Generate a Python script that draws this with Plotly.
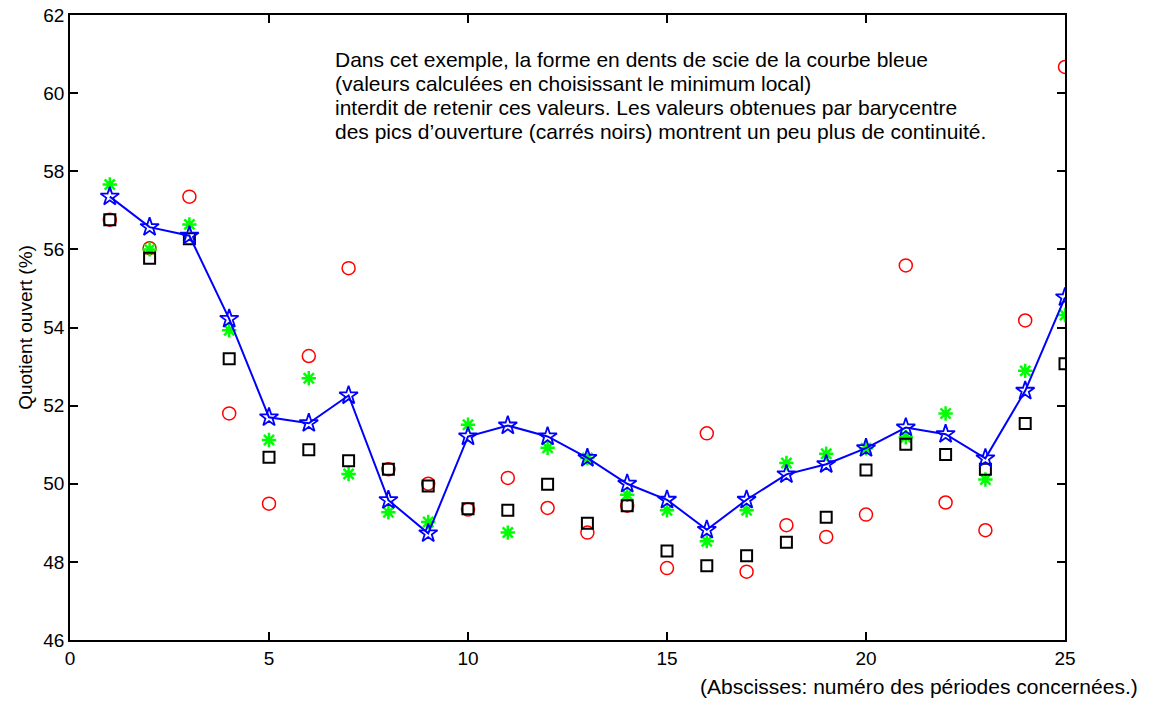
import plotly.graph_objects as go

periodes = list(range(1, 26))

# minimum local (courbe bleue)
q_min_local = [57.35, 56.57, 56.35, 54.22, 51.70, 51.55, 52.26, 49.58, 48.73, 51.21,
               51.49, 51.21, 50.66, 50.00, 49.59, 48.82, 49.59, 50.24, 50.50, 50.91,
               51.44, 51.27, 50.65, 52.38, 54.77]
# asterisques verts
q_vert = [57.66, 56.00, 56.64, 53.93, 51.12, 52.70, 50.25, 49.27, 49.02, 51.51,
          48.75, 50.92, 50.66, 49.72, 49.32, 48.53, 49.32, 50.53, 50.77, 50.91,
          51.19, 51.80, 50.11, 52.89, 54.32]
# cercles rouges
q_rouge = [56.76, 56.03, 57.35, 51.80, 49.49, 53.27, 55.52, 50.37, 50.00, 49.34,
           50.15, 49.38, 48.75, 49.44, 47.84, 51.29, 47.75, 48.94, 48.64, 49.21,
           55.59, 49.52, 48.81, 54.18, 60.67]
# carres noirs (barycentre)
q_noir = [56.76, 55.77, 56.27, 53.20, 50.68, 50.87, 50.59, 50.37, 49.94, 49.36,
          49.32, 49.99, 48.99, 49.44, 48.28, 47.90, 48.16, 48.50, 49.14, 50.35,
          51.01, 50.75, 50.37, 51.54, 53.07]

commentaire = [
    "Dans cet exemple, la forme en dents de scie de la courbe bleue",
    "(valeurs calculées en choisissant le minimum local)",
    "interdit de retenir ces valeurs. Les valeurs obtenues par barycentre",
    "des pics d’ouverture (carrés noirs) montrent un peu plus de continuité.",
]

police = "Liberation Sans, Arial, Helvetica, sans-serif"

fig = go.Figure()
fig.add_trace(go.Scatter(x=periodes, y=q_rouge, mode="markers",
                         marker=dict(symbol="circle-open", size=13, color="#ff0000",
                                     line=dict(width=1.5, color="#ff0000"))))
fig.add_trace(go.Scatter(x=periodes, y=q_vert, mode="markers",
                         marker=dict(symbol="asterisk-open", size=12, color="#00ff00",
                                     line=dict(width=2.5, color="#00ff00"))))
fig.add_trace(go.Scatter(x=periodes, y=q_noir, mode="markers",
                         marker=dict(symbol="square-open", size=11, color="black",
                                     line=dict(width=2, color="black"))))
fig.add_trace(go.Scatter(x=periodes, y=q_min_local, mode="lines+markers",
                         line=dict(color="#0000ff", width=2),
                         marker=dict(symbol="star-open", size=14, color="#0000ff",
                                     line=dict(width=1.8, color="#0000ff"))))

fig.update_layout(
    width=1153, height=701,
    margin=dict(l=70, r=88, t=15, b=61),
    paper_bgcolor="white", plot_bgcolor="white",
    showlegend=False,
    font=dict(family=police, size=19, color="black"),
)
fig.update_xaxes(range=[0, 25], tickvals=[0, 5, 10, 15, 20, 25], ticks="inside",
                 ticklen=8, tickwidth=1.5, tickcolor="black", showline=True,
                 linecolor="black", linewidth=1.5, mirror="ticks", showgrid=False,
                 zeroline=False, tickfont=dict(size=19), ticklabeloverflow="allow",
                 automargin=False)
fig.update_yaxes(range=[46, 62], dtick=2, ticks="inside", ticklen=8, tickwidth=1.5,
                 tickcolor="black", showline=True, linecolor="black", linewidth=1.5,
                 mirror="ticks", showgrid=False, zeroline=False,
                 title=dict(text="Quotient ouvert (%)", font=dict(size=19), standoff=6),
                 tickfont=dict(size=19), ticklabeloverflow="allow", automargin=False)

y_lignes = [0.928, 0.8912, 0.8528, 0.8144]
for ligne, yl in zip(commentaire, y_lignes):
    fig.add_annotation(
        xref="paper", yref="paper", x=0.2643, y=yl, xanchor="left", yanchor="middle",
        align="left", showarrow=False, font=dict(size=21), text=ligne,
    )
fig.add_annotation(
    xref="paper", yref="paper", x=1.0754, y=-0.075, xanchor="right", yanchor="middle",
    showarrow=False, font=dict(size=21),
    text="(Abscisses: numéro des périodes concernées.)",
)

# la page garde sinon une marge de 8 px autour du graphique
fig.write_html("out.html", config={"displayModeBar": False},
               post_script="document.body.style.margin='0';")
